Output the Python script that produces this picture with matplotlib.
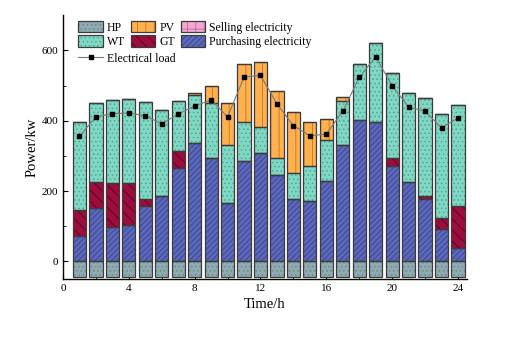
import matplotlib
matplotlib.use('Agg')
import matplotlib.pyplot as plt
import numpy as np
from matplotlib.patches import Patch
from matplotlib.lines import Line2D
from matplotlib.legend_handler import HandlerTuple

plt.rcParams['font.family'] = ['Liberation Serif', 'DejaVu Serif']
plt.rcParams['hatch.linewidth'] = 0.6

# Hourly data (kW)
hours = np.arange(1, 25)
hp = [-44] * 24
purchasing = [71, 151, 99, 103, 158, 187, 265, 338, 293, 165, 285, 307,
              245, 178, 173, 228, 330, 402, 397, 271, 227, 177, 92, 37]
gt = [74, 76, 123, 119, 19, 0, 49, 0, 0, 0, 0, 0,
      0, 0, 0, 0, 0, 0, 0, 23, 0, 10, 31, 121]
wt = [252, 224, 236, 241, 276, 243, 141, 134, 156, 165, 110, 74,
      48, 74, 99, 117, 127, 160, 224, 243, 252, 278, 295, 287]
pv = [0, 0, 0, 0, 0, 0, 0, 8, 49, 121, 167, 186,
      192, 173, 125, 59, 9, 0, 0, 0, 0, 0, 0, 0]
selling = [0] * 24
load = [356, 411, 420, 422, 414, 391, 419, 442, 459, 411, 524, 529,
        448, 386, 357, 362, 427, 523, 582, 499, 439, 427, 380, 408]

series = [
    # name, values, face, hatch colour, hatch
    ('HP', hp, '#8faab0', '#6d8a90', '....'),
    ('Purchasing electricity', purchasing, '#5b67b8', '#3a4590', '//////'),
    ('GT', gt, '#9b0d3c', '#5e0020', '\\\\\\'),
    ('WT', wt, '#80d8c4', '#4fa893', '....'),
    ('PV', pv, '#ffb04f', '#c07820', '||'),
    ('Selling electricity', selling, '#f3a9d2', '#c46a9c', '++'),
]

fig = plt.figure(figsize=(5.14, 3.37), dpi=100)
ax = fig.add_axes([0.1226, 0.172, 0.786, 0.783])

width = 0.8
outline = '#3c3c3c'
handles = {}
bottom = np.zeros(24)
for name, vals, face, hcol, hatch in series:
    vals = np.array(vals, dtype=float)
    if name == 'HP':
        b = np.zeros(24)
    else:
        b = bottom.copy()
    ax.bar(hours, vals, width, bottom=b, color=face, edgecolor=hcol,
           hatch=hatch, linewidth=0, zorder=2)
    ax.bar(hours, vals, width, bottom=b, facecolor='none', edgecolor=outline,
           linewidth=0.9, zorder=3)
    if name != 'HP':
        bottom = bottom + vals
    h1 = Patch(facecolor=face, edgecolor=hcol, hatch=hatch, linewidth=0)
    h2 = Patch(facecolor='none', edgecolor=outline, linewidth=0.9)
    handles[name] = (h1, h2)

ax.plot(hours, load, color='#7a7a7a', linewidth=0.8, marker='s',
        markersize=3.5, markerfacecolor='black', markeredgecolor='black',
        zorder=4)

ax.set_xlim(0, 24.55)
ax.set_ylim(-50, 700)
ax.set_xticks([0, 4, 8, 12, 16, 20, 24])
ax.set_xticks(np.arange(0, 25, 2), minor=True)
ax.set_yticks([0, 200, 400, 600])
ax.set_yticks([100, 300, 500], minor=True)
ax.tick_params(which='both', direction='in', labelsize=8)
ax.tick_params(which='major', length=3.5)
ax.tick_params(which='minor', length=2.5)
for s in ['top', 'right']:
    ax.spines[s].set_visible(False)
for s in ['left', 'bottom']:
    ax.spines[s].set_linewidth(1.0)

ax.set_xlabel('Time/h', fontsize=10.5, labelpad=4)
ax.set_ylabel('Power/kw', fontsize=10.5, labelpad=2)

order = ['HP', 'WT', 'PV', 'GT', 'Selling electricity', 'Purchasing electricity']
leg1 = ax.legend([handles[n] for n in order], order, ncol=3, frameon=False,
                 loc='upper left', bbox_to_anchor=(0.02, 1.005), fontsize=8.5,
                 handler_map={tuple: HandlerTuple(ndivide=1, pad=0)},
                 handlelength=2.1, handleheight=1.1, columnspacing=0.45,
                 handletextpad=0.35, labelspacing=0.15, borderaxespad=0.2)
ax.add_artist(leg1)
line_h = Line2D([], [], color='#7a7a7a', linewidth=0.8, marker='s',
                markersize=3.5, markerfacecolor='black', markeredgecolor='black')
ax.legend([line_h], ['Electrical load'], frameon=False, loc='upper left',
          bbox_to_anchor=(0.02, 0.885), fontsize=8.5, handlelength=2.1,
          handletextpad=0.35, borderaxespad=0.2)

fig.savefig('out.png', dpi=100)
